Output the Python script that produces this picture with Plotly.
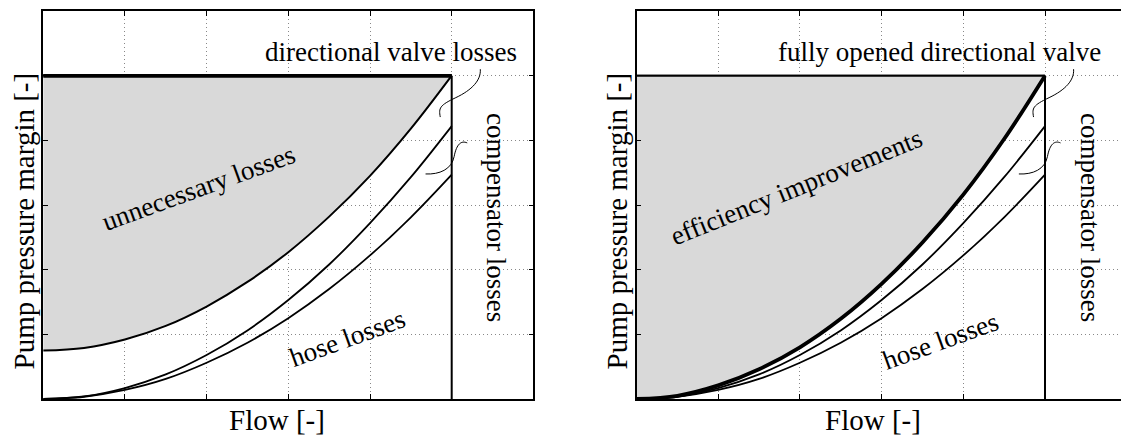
import plotly.graph_objects as go

# ---------------- data ----------------
flow = [0, 0.5, 1.0, 1.5, 2.0, 2.5, 3.0, 3.5, 4.0, 4.5, 5.0]
# left panel: lower edge of "unnecessary losses" region
unnecessary_edge = [0.75, 0.79, 0.92, 1.13, 1.43, 1.81, 2.27, 2.82, 3.45, 4.18, 5.0]
# curve below directional valve losses (upper edge of compensator losses)
valve_edge = [0.0, 0.04, 0.17, 0.38, 0.68, 1.06, 1.53, 2.08, 2.72, 3.43, 4.22]
# curve below compensator losses (upper edge of hose losses)
comp_edge = [0.0, 0.035, 0.14, 0.31, 0.56, 0.87, 1.25, 1.70, 2.22, 2.81, 3.47]
# right panel: fully opened directional valve
full_open = [0.0, 0.05, 0.21, 0.46, 0.80, 1.24, 1.78, 2.42, 3.16, 4.02, 5.0]

flow_max = 5.0
margin = 5.0
x_ticks = [0, 1, 2, 3, 4, 5, 6]
y_ticks = [0, 1, 2, 3, 4, 5, 6]

W, H = 1121, 437
FONT = "Liberation Serif"
FS = 27
FS_AX = 29
GRAY = "#d9d9d9"

fig = go.Figure()


def add_panel(xa, ya, lower, top_width, lower_width):
    fig.add_trace(go.Scatter(x=[0, flow_max], y=[margin, margin], mode="lines",
                             line=dict(color="black", width=top_width),
                             xaxis=xa, yaxis=ya, showlegend=False, hoverinfo="skip"))
    fig.add_trace(go.Scatter(x=flow, y=lower, mode="lines", fill="tonexty",
                             fillcolor=GRAY,
                             line=dict(color="black", width=lower_width, shape="spline"),
                             xaxis=xa, yaxis=ya, showlegend=False, hoverinfo="skip"))
    for c in (valve_edge, comp_edge):
        fig.add_trace(go.Scatter(x=flow, y=c, mode="lines",
                                 line=dict(color="black", width=1.8, shape="spline"),
                                 xaxis=xa, yaxis=ya, showlegend=False, hoverinfo="skip"))
    fig.add_trace(go.Scatter(x=[flow_max, flow_max], y=[0, margin], mode="lines",
                             line=dict(color="black", width=2),
                             xaxis=xa, yaxis=ya, showlegend=False, hoverinfo="skip"))
    fig.add_trace(go.Scatter(x=[0, flow_max], y=[margin, margin], mode="lines",
                             line=dict(color="black", width=top_width),
                             xaxis=xa, yaxis=ya, showlegend=False, hoverinfo="skip"))


add_panel("x", "y", unnecessary_edge, 3.5, 2.0)
add_panel("x2", "y2", full_open, 1.6, 3.8)

# axes geometry (pixels)
x0L, unit = 43.2, 81.7
x0R = 636.5
yb, yt = 399.0, 11.0
ydom = [(H - yb) / H, (H - yt) / H]

common_x = dict(tickvals=x_ticks, showticklabels=False, ticks="inside", ticklen=5,
                tickcolor="black", tickwidth=1, showgrid=True, gridcolor="#888888",
                griddash="1px,3px", gridwidth=1, zeroline=False, showline=True,
                linecolor="black", linewidth=1.6)
common_y = dict(tickvals=y_ticks, showticklabels=False, ticks="inside", ticklen=5,
                tickcolor="black", tickwidth=1, showgrid=True, gridcolor="#888888",
                griddash="1px,3px", gridwidth=1, zeroline=False, showline=True,
                linecolor="black", linewidth=1.6, range=[0, 6])

fig.update_layout(
    width=W, height=H, margin=dict(l=0, r=0, t=0, b=0),
    paper_bgcolor="white", plot_bgcolor="white",
    font=dict(family=FONT, size=FS, color="black"),
    xaxis=dict(domain=[x0L / W, (x0L + 6 * unit) / W], range=[0, 6], mirror="ticks", **common_x),
    yaxis=dict(domain=ydom, mirror="ticks", anchor="x", **common_y),
    xaxis2=dict(domain=[x0R / W, 1.0], range=[0, (W - x0R) / unit], mirror="ticks",
                anchor="y2", **common_x),
    yaxis2=dict(domain=ydom, mirror=False, anchor="x2", **common_y),
)

ann = []


def txt(text, x, y, xref, yref, angle=0, size=FS):
    ann.append(dict(text=text, x=x, y=y, xref=xref, yref=yref, showarrow=False,
                    textangle=angle, font=dict(family=FONT, size=size, color="black"),
                    xanchor="center", yanchor="middle"))


# left panel labels
txt("directional valve losses", 4.26, 5.36, "x", "y")
txt("unnecessary losses", 1.9, 3.26, "x", "y", -20)
txt("hose losses", 3.73, 0.94, "x", "y", -20)
txt("compensator losses", 5.54, 2.8, "x", "y", 90)
# right panel labels
txt("fully opened directional valve", 3.71, 5.36, "x2", "y2")
txt("efficiency improvements", 1.96, 3.28, "x2", "y2", -22)
txt("hose losses", 3.72, 0.9, "x2", "y2", -20)
txt("compensator losses", 5.55, 2.8, "x2", "y2", 90)
# axis titles
txt("Flow [-]", 276.5 / W, (H - 420) / H, "paper", "paper", size=FS_AX)
txt("Flow [-]", 872.5 / W, (H - 420) / H, "paper", "paper", size=FS_AX)
txt("Pump pressure margin [-]", 23.5 / W, (H - 221) / H, "paper", "paper", -90, FS_AX)
txt("Pump pressure margin [-]", 616.5 / W, (H - 221) / H, "paper", "paper", -90, FS_AX)
fig.update_layout(annotations=ann)

# leader lines
lead1 = "M 5.35 5.10 C 5.36 4.93, 5.25 4.78, 5.05 4.66 S 4.84 4.50, 4.86 4.36"
lead2 = "M 5.19 3.96 C 5.12 4.00, 5.06 3.95, 5.03 3.75 C 5.00 3.55, 4.85 3.47, 4.68 3.48"
shapes = []
for xr, yr in (("x", "y"), ("x2", "y2")):
    for p in (lead1, lead2):
        shapes.append(dict(type="path", path=p, xref=xr, yref=yr,
                           line=dict(color="black", width=1)))
fig.update_layout(shapes=shapes)

fig.write_html("out.html", config={"displayModeBar": False},
               post_script="document.body.style.margin='0';document.body.style.overflow='hidden';")
